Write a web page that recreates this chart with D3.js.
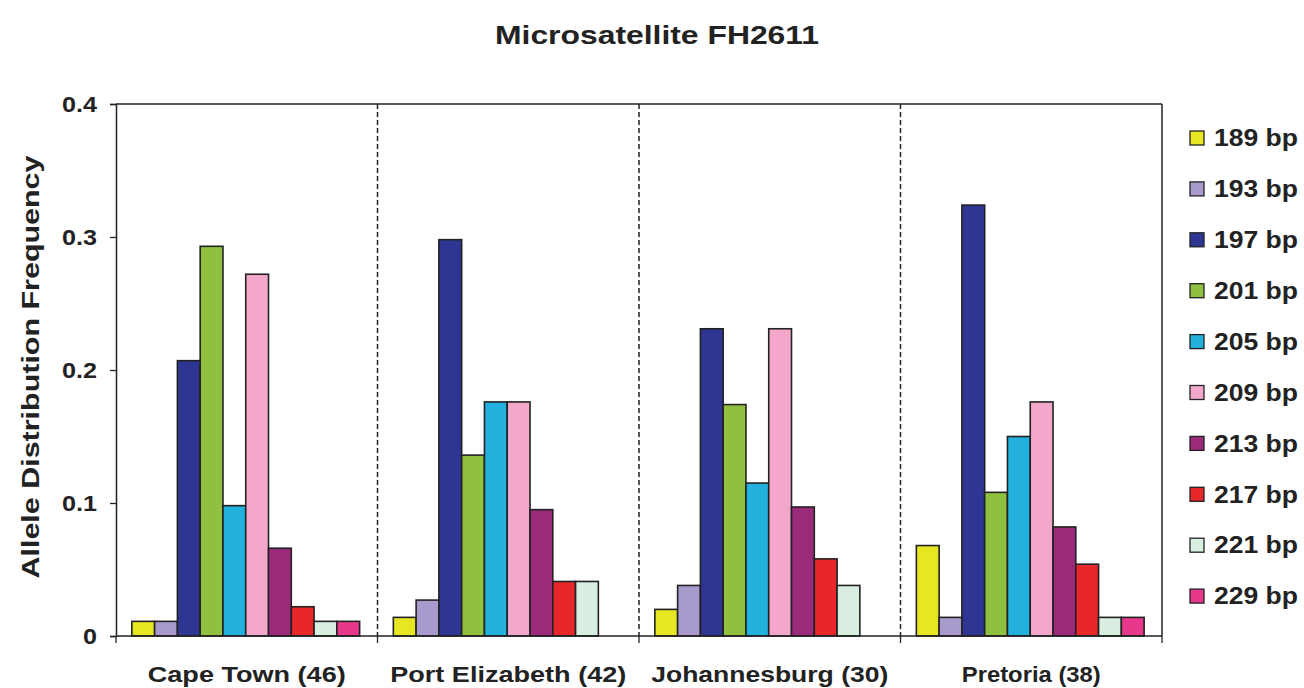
<!DOCTYPE html>
<html>
<head>
<meta charset="utf-8">
<script src="https://cdnjs.cloudflare.com/ajax/libs/d3/7.8.5/d3.min.js"></script>
<style>
  body { margin: 0; background: #fff; }
  svg { display: block; font-family: 'Liberation Sans', Arial, sans-serif; }
</style>
</head>
<body>
<svg id="chart"></svg>
<script>
const populations = ['Cape Town (46)', 'Port Elizabeth (42)', 'Johannesburg (30)', 'Pretoria (38)'];
const alleles = ['189 bp', '193 bp', '197 bp', '201 bp', '205 bp', '209 bp', '213 bp', '217 bp', '221 bp', '229 bp'];
const capeTown      = [0.011, 0.011, 0.207, 0.293, 0.098, 0.272, 0.066, 0.022, 0.011, 0.011];
const portElizabeth = [0.014, 0.027, 0.298, 0.136, 0.176, 0.176, 0.095, 0.041, 0.041, 0];
const johannesburg  = [0.020, 0.038, 0.231, 0.174, 0.115, 0.231, 0.097, 0.058, 0.038, 0];
const pretoria      = [0.068, 0.014, 0.324, 0.108, 0.150, 0.176, 0.082, 0.054, 0.014, 0.014];
const yTicks = [0, 0.1, 0.2, 0.3, 0.4];
const colors = ['#e6e622', '#a99ace', '#2f3592', '#8fc03f', '#22b1dc',
                '#f3a8cb', '#9c2a7b', '#e8272b', '#d7eee1', '#e7388b'];

const series = [capeTown, portElizabeth, johannesburg, pretoria];

const svg = d3.select('#chart').attr('width', 1304).attr('height', 688);
const margin = { top: 104, right: 142, bottom: 52, left: 116 };
const width = 1304 - margin.left - margin.right;
const height = 688 - margin.top - margin.bottom;

const x0 = d3.scaleBand().domain(populations).range([0, width]).padding(0);
const x1 = d3.scaleBand().domain(alleles).range([0, x0.bandwidth()])
  .paddingInner(0).paddingOuter(0.74).align(0.47);
const y = d3.scaleLinear().domain([0, 0.4]).range([height, 0]);
const color = d3.scaleOrdinal().domain(alleles).range(colors);

const g = svg.append('g').attr('transform', `translate(${margin.left},${margin.top})`);

// group separators (dashed)
g.selectAll('.sep')
  .data(populations.slice(1))
  .enter()
  .append('line')
  .attr('x1', d => x0(d)).attr('x2', d => x0(d))
  .attr('y1', 0).attr('y2', height)
  .attr('stroke', '#222').attr('stroke-width', 1.5)
  .attr('stroke-dasharray', '5,3');

// bars
const groups = g.selectAll('.group')
  .data(populations)
  .enter()
  .append('g')
  .attr('transform', d => `translate(${x0(d)},0)`);

groups.selectAll('rect')
  .data((d, i) => alleles.map((a, j) => ({ allele: a, value: series[i][j] })).filter(v => v.value > 0))
  .enter()
  .append('rect')
  .attr('x', d => x1(d.allele))
  .attr('y', d => y(d.value))
  .attr('width', x1.bandwidth())
  .attr('height', d => height - y(d.value))
  .attr('fill', d => color(d.allele))
  .attr('stroke', '#222')
  .attr('stroke-width', 1.6);

// frame top and right
g.append('line').attr('x1', 0).attr('x2', width).attr('y1', 0).attr('y2', 0)
  .attr('stroke', '#222').attr('stroke-width', 1.5);
g.append('line').attr('x1', width).attr('x2', width).attr('y1', 0).attr('y2', height)
  .attr('stroke', '#222').attr('stroke-width', 1.5);

// y axis
const yAxis = d3.axisLeft(y)
  .tickValues(yTicks)
  .tickSize(6)
  .tickPadding(13)
  .tickFormat(d => d === 0 ? '0' : d.toFixed(1));

const yg = g.append('g').call(yAxis);
yg.select('.domain').attr('stroke', '#222').attr('stroke-width', 1.5);
yg.selectAll('.tick line').attr('stroke', '#222').attr('stroke-width', 1.3);
yg.selectAll('.tick text')
  .style('font-size', '22px').style('font-weight', 'bold').attr('fill', '#222')
  .attr('textLength', d => d === 0 ? 14 : 35).attr('lengthAdjust', 'spacingAndGlyphs');

// x axis: ticks at group boundaries
const xg = g.append('g').attr('transform', `translate(0,${height})`);
xg.append('line').attr('x1', 0).attr('x2', width)
  .attr('stroke', '#222').attr('stroke-width', 1.5);
xg.selectAll('.xtick')
  .data(populations.map(p => x0(p)).concat([width]))
  .enter()
  .append('line')
  .attr('x1', d => d).attr('x2', d => d)
  .attr('y1', 0).attr('y2', 7)
  .attr('stroke', '#222').attr('stroke-width', 1.3);

const labelWidths = [198, 236, 237, 139];
xg.selectAll('.xlabel')
  .data(populations)
  .enter()
  .append('text')
  .attr('x', d => x0(d) + x0.bandwidth() / 2)
  .attr('y', 46)
  .attr('text-anchor', 'middle')
  .style('font-size', '22px').style('font-weight', 'bold').attr('fill', '#222')
  .attr('textLength', (d, i) => labelWidths[i]).attr('lengthAdjust', 'spacingAndGlyphs')
  .text(d => d);

// y axis title
svg.append('text')
  .attr('transform', `translate(39,${margin.top + 263}) rotate(-90)`)
  .attr('text-anchor', 'middle')
  .style('font-size', '24px').style('font-weight', 'bold').attr('fill', '#222')
  .attr('textLength', 423).attr('lengthAdjust', 'spacingAndGlyphs')
  .text('Allele Distribution Frequency');

// chart title
svg.append('text')
  .attr('x', 657)
  .attr('y', 44)
  .attr('text-anchor', 'middle')
  .style('font-size', '25px').style('font-weight', 'bold').attr('fill', '#222')
  .attr('textLength', 324).attr('lengthAdjust', 'spacingAndGlyphs')
  .text('Microsatellite FH2611');

// legend
const legend = svg.append('g').attr('transform', 'translate(1190,138)');
const items = legend.selectAll('.item')
  .data(alleles)
  .enter()
  .append('g')
  .attr('transform', (d, i) => `translate(0,${i * 50.9})`);

items.append('rect')
  .attr('x', 0).attr('y', -7)
  .attr('width', 14).attr('height', 14)
  .attr('fill', d => color(d))
  .attr('stroke', '#222').attr('stroke-width', 1.3);

items.append('text')
  .attr('x', 24).attr('y', 0)
  .attr('dy', '0.36em')
  .style('font-size', '23px').style('font-weight', 'bold').attr('fill', '#222')
  .attr('textLength', 84).attr('lengthAdjust', 'spacingAndGlyphs')
  .text(d => d);
</script>
</body>
</html>
